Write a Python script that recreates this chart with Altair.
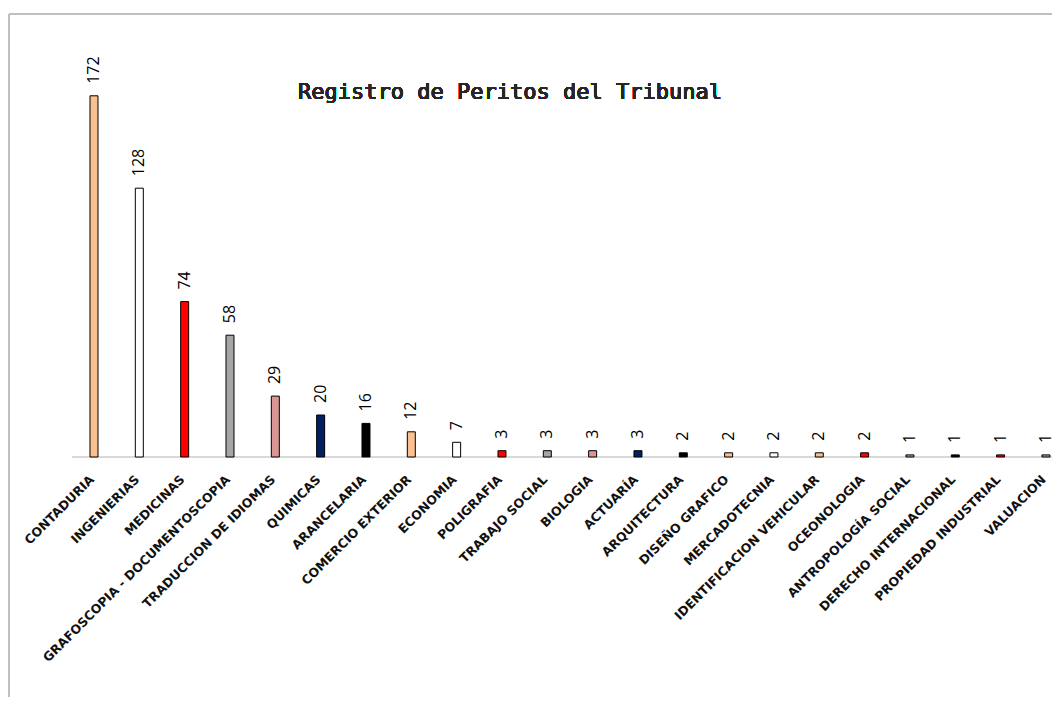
import altair as alt
import pandas as pd

categories = [
    "CONTADURIA", "INGENIERIAS", "MEDICINAS", "GRAFOSCOPIA - DOCUMENTOSCOPIA",
    "TRADUCCION DE IDIOMAS", "QUIMICAS", "ARANCELARIA", "COMERCIO EXTERIOR",
    "ECONOMIA", "POLIGRAFIA", "TRABAJO SOCIAL", "BIOLOGIA", "ACTUARÍA",
    "ARQUITECTURA", "DISEÑO GRAFICO", "MERCADOTECNIA", "IDENTIFICACION VEHICULAR",
    "OCEONOLOGIA", "ANTROPOLOGÍA SOCIAL", "DERECHO INTERNACIONAL",
    "PROPIEDAD INDUSTRIAL", "VALUACION",
]
values = [172, 128, 74, 58, 29, 20, 16, 12, 7, 3, 3, 3, 3, 2, 2, 2, 2, 2, 1, 1, 1, 1]
colors = [
    "#FAC090", "#FFFFFF", "#FF0000", "#A6A6A6", "#D99694", "#002060", "#000000",
    "#FAC090", "#FFFFFF", "#FF0000", "#A6A6A6", "#D99694", "#002060", "#000000",
    "#FAC090", "#FFFFFF", "#FAC090", "#FF0000", "#A6A6A6", "#000000", "#FF0000",
    "#A6A6A6",
]
title_text = "Registro de Peritos del Tribunal"

df = pd.DataFrame({"cat": categories, "val": values, "col": colors})

W, H = 980, 420

xenc = alt.X(
    "cat:N",
    sort=categories,
    scale=alt.Scale(paddingInner=0.8235, paddingOuter=0.2213, align=0.897, round=False),
    axis=alt.Axis(
        title=None,
        labelAngle=-45,
        labelAlign="right",
        labelBaseline="middle",
        labelPadding=20,
        labelOffset=-2,
        labelFont="DejaVu Sans",
        labelFontWeight="bold",
        labelFontSize=12.5,
        labelColor="#111111",
        ticks=False,
        domain=False,
        labelOverlap=False,
        labelLimit=400,
    ),
)
yenc = alt.Y("val:Q", scale=alt.Scale(domain=[0, 200], nice=False), axis=None)

base = alt.Chart(df)

baseline = base.mark_rule(color="#D9D9D9", strokeWidth=1.5).encode(
    x=alt.value(0), x2=alt.value(W), y=alt.value(H)
)

bars = base.mark_bar(stroke="#000000", strokeWidth=1).encode(
    x=xenc, y=yenc, color=alt.Color("col:N", scale=None)
)

labels = base.mark_text(
    angle=270, align="left", baseline="middle", dx=12,
    font="Open Sans", fontSize=16, color="#000000",
).encode(x=xenc, y=yenc, text="val:Q")

title = base.mark_text(
    font="DejaVu Sans Mono", fontSize=22, color="#262626",
    align="center", baseline="alphabetic"
).encode(x=alt.value(438), y=alt.value(62), text=alt.value(title_text))

frame_top = base.mark_rule(color="#BFBFBF", strokeWidth=1.5).encode(
    x=alt.value(-63), x2=alt.value(W), y=alt.value(-23)
)
frame_left = base.mark_rule(color="#BFBFBF", strokeWidth=1.5).encode(
    x=alt.value(-63), y=alt.value(-23), y2=alt.value(H + 240)
)

chart = alt.layer(frame_top, frame_left, baseline, bars, labels, title).properties(
    width=W,
    height=H,
    autosize=alt.AutoSizeParams(type="none"),
    padding={"left": 64, "top": 29, "right": 0, "bottom": 240},
).configure_view(stroke=None)

chart.save("out.html", embed_options={"renderer": "svg", "actions": False})
